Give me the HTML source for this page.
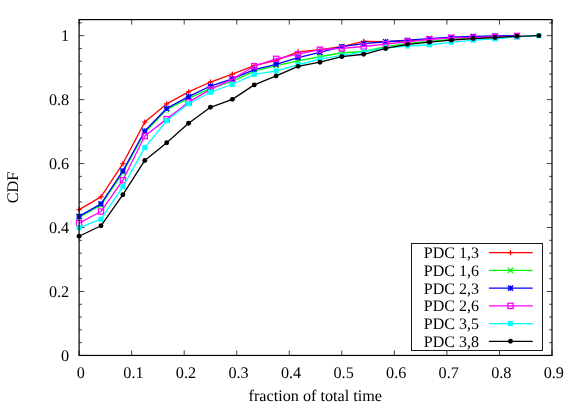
<!DOCTYPE html><html><head><meta charset="utf-8"><style>html,body{margin:0;padding:0;background:#fff}svg{display:block;will-change:transform}text{font-family:"Liberation Serif",serif;font-size:16.2px;fill:#000;text-rendering:geometricPrecision}</style></head><body>
<svg width="581" height="407" viewBox="0 0 581 407">
<rect width="581" height="407" fill="#fff"/>
<text x="80.90" y="377.5" text-anchor="middle">0</text>
<text x="133.44" y="377.5" text-anchor="middle">0.1</text>
<text x="185.99" y="377.5" text-anchor="middle">0.2</text>
<text x="238.53" y="377.5" text-anchor="middle">0.3</text>
<text x="291.08" y="377.5" text-anchor="middle">0.4</text>
<text x="343.62" y="377.5" text-anchor="middle">0.5</text>
<text x="396.17" y="377.5" text-anchor="middle">0.6</text>
<text x="448.71" y="377.5" text-anchor="middle">0.7</text>
<text x="501.26" y="377.5" text-anchor="middle">0.8</text>
<text x="553.80" y="377.5" text-anchor="middle">0.9</text>
<text x="69.2" y="360.95" text-anchor="end">0</text>
<text x="69.2" y="296.99" text-anchor="end">0.2</text>
<text x="69.2" y="233.03" text-anchor="end">0.4</text>
<text x="69.2" y="169.07" text-anchor="end">0.6</text>
<text x="69.2" y="105.11" text-anchor="end">0.8</text>
<text x="69.2" y="41.15" text-anchor="end">1</text>
<text x="315.3" y="401.2" text-anchor="middle">fraction of total time</text>
<text transform="translate(18.2,187.5) rotate(-90)" text-anchor="middle">CDF</text>
<path d="M79.10,355.45v-5M79.10,19.6v5M131.64,355.45v-5M131.64,19.6v5M184.19,355.45v-5M184.19,19.6v5M236.73,355.45v-5M236.73,19.6v5M289.28,355.45v-5M289.28,19.6v5M341.82,355.45v-5M341.82,19.6v5M394.37,355.45v-5M394.37,19.6v5M446.91,355.45v-5M446.91,19.6v5M499.46,355.45v-5M499.46,19.6v5M552.00,355.45v-5M552.00,19.6v5M79.1,355.45h5.2M552.0,355.45h-5.2M79.1,342.66h2.8M552.0,342.66h-2.8M79.1,329.87h2.8M552.0,329.87h-2.8M79.1,317.07h2.8M552.0,317.07h-2.8M79.1,304.28h2.8M552.0,304.28h-2.8M79.1,291.49h5.2M552.0,291.49h-5.2M79.1,278.70h2.8M552.0,278.70h-2.8M79.1,265.91h2.8M552.0,265.91h-2.8M79.1,253.11h2.8M552.0,253.11h-2.8M79.1,240.32h2.8M552.0,240.32h-2.8M79.1,227.53h5.2M552.0,227.53h-5.2M79.1,214.74h2.8M552.0,214.74h-2.8M79.1,201.95h2.8M552.0,201.95h-2.8M79.1,189.15h2.8M552.0,189.15h-2.8M79.1,176.36h2.8M552.0,176.36h-2.8M79.1,163.57h5.2M552.0,163.57h-5.2M79.1,150.78h2.8M552.0,150.78h-2.8M79.1,137.99h2.8M552.0,137.99h-2.8M79.1,125.19h2.8M552.0,125.19h-2.8M79.1,112.40h2.8M552.0,112.40h-2.8M79.1,99.61h5.2M552.0,99.61h-5.2M79.1,86.82h2.8M552.0,86.82h-2.8M79.1,74.03h2.8M552.0,74.03h-2.8M79.1,61.23h2.8M552.0,61.23h-2.8M79.1,48.44h2.8M552.0,48.44h-2.8M79.1,35.65h5.2M552.0,35.65h-5.2M79.1,22.86h2.8M552.0,22.86h-2.8" stroke="#000" stroke-width="0.75" fill="none"/>
<path d="M79.10,209.62L100.99,196.83L122.89,163.57L144.78,122.09L166.67,103.90L188.57,91.81L210.46,82.02L232.35,74.03L254.25,65.71L276.14,60.27L298.04,51.96L319.93,49.72L341.82,46.65L363.72,41.34L385.61,41.73L407.50,40.77L429.40,39.17L451.29,37.89L473.18,36.93L495.08,36.29L516.97,35.65" stroke="#ff0000" stroke-width="1.3" fill="none" stroke-linejoin="round"/>
<path d="M76.50,209.62H81.70M79.10,207.02V212.22" stroke="#ff0000" stroke-width="1.3" fill="none"/>
<path d="M98.39,196.83H103.59M100.99,194.23V199.43" stroke="#ff0000" stroke-width="1.3" fill="none"/>
<path d="M120.29,163.57H125.49M122.89,160.97V166.17" stroke="#ff0000" stroke-width="1.3" fill="none"/>
<path d="M142.18,122.09H147.38M144.78,119.49V124.69" stroke="#ff0000" stroke-width="1.3" fill="none"/>
<path d="M164.07,103.90H169.27M166.67,101.30V106.50" stroke="#ff0000" stroke-width="1.3" fill="none"/>
<path d="M185.97,91.81H191.17M188.57,89.21V94.41" stroke="#ff0000" stroke-width="1.3" fill="none"/>
<path d="M207.86,82.02H213.06M210.46,79.42V84.62" stroke="#ff0000" stroke-width="1.3" fill="none"/>
<path d="M229.75,74.03H234.95M232.35,71.43V76.63" stroke="#ff0000" stroke-width="1.3" fill="none"/>
<path d="M251.65,65.71H256.85M254.25,63.11V68.31" stroke="#ff0000" stroke-width="1.3" fill="none"/>
<path d="M273.54,60.27H278.74M276.14,57.67V62.87" stroke="#ff0000" stroke-width="1.3" fill="none"/>
<path d="M295.44,51.96H300.64M298.04,49.36V54.56" stroke="#ff0000" stroke-width="1.3" fill="none"/>
<path d="M317.33,49.72H322.53M319.93,47.12V52.32" stroke="#ff0000" stroke-width="1.3" fill="none"/>
<path d="M339.22,46.65H344.42M341.82,44.05V49.25" stroke="#ff0000" stroke-width="1.3" fill="none"/>
<path d="M361.12,41.34H366.32M363.72,38.74V43.94" stroke="#ff0000" stroke-width="1.3" fill="none"/>
<path d="M383.01,41.73H388.21M385.61,39.13V44.33" stroke="#ff0000" stroke-width="1.3" fill="none"/>
<path d="M404.90,40.77H410.10M407.50,38.17V43.37" stroke="#ff0000" stroke-width="1.3" fill="none"/>
<path d="M426.80,39.17H432.00M429.40,36.57V41.77" stroke="#ff0000" stroke-width="1.3" fill="none"/>
<path d="M448.69,37.89H453.89M451.29,35.29V40.49" stroke="#ff0000" stroke-width="1.3" fill="none"/>
<path d="M470.58,36.93H475.78M473.18,34.33V39.53" stroke="#ff0000" stroke-width="1.3" fill="none"/>
<path d="M492.48,36.29H497.68M495.08,33.69V38.89" stroke="#ff0000" stroke-width="1.3" fill="none"/>
<path d="M514.37,35.65H519.57M516.97,33.05V38.25" stroke="#ff0000" stroke-width="1.3" fill="none"/>
<path d="M79.10,217.14L100.99,205.14L122.89,172.52L144.78,132.55L166.67,109.52L188.57,98.33L210.46,88.42L232.35,81.38L254.25,71.05L276.14,65.71L298.04,60.91L319.93,56.76L341.82,52.76L363.72,51.48L385.61,46.52L407.50,43.33L429.40,41.09L451.29,39.49L473.18,38.21L495.08,37.25L516.97,36.29" stroke="#00ff00" stroke-width="1.3" fill="none" stroke-linejoin="round"/>
<path d="M76.50,214.54L81.70,219.74M76.50,219.74L81.70,214.54" stroke="#00ff00" stroke-width="1.3" fill="none"/>
<path d="M98.39,202.54L103.59,207.74M98.39,207.74L103.59,202.54" stroke="#00ff00" stroke-width="1.3" fill="none"/>
<path d="M120.29,169.92L125.49,175.12M120.29,175.12L125.49,169.92" stroke="#00ff00" stroke-width="1.3" fill="none"/>
<path d="M142.18,129.95L147.38,135.15M142.18,135.15L147.38,129.95" stroke="#00ff00" stroke-width="1.3" fill="none"/>
<path d="M164.07,106.92L169.27,112.12M164.07,112.12L169.27,106.92" stroke="#00ff00" stroke-width="1.3" fill="none"/>
<path d="M185.97,95.73L191.17,100.93M185.97,100.93L191.17,95.73" stroke="#00ff00" stroke-width="1.3" fill="none"/>
<path d="M207.86,85.82L213.06,91.02M207.86,91.02L213.06,85.82" stroke="#00ff00" stroke-width="1.3" fill="none"/>
<path d="M229.75,78.78L234.95,83.98M229.75,83.98L234.95,78.78" stroke="#00ff00" stroke-width="1.3" fill="none"/>
<path d="M251.65,68.45L256.85,73.65M251.65,73.65L256.85,68.45" stroke="#00ff00" stroke-width="1.3" fill="none"/>
<path d="M273.54,63.11L278.74,68.31M273.54,68.31L278.74,63.11" stroke="#00ff00" stroke-width="1.3" fill="none"/>
<path d="M295.44,58.31L300.64,63.51M295.44,63.51L300.64,58.31" stroke="#00ff00" stroke-width="1.3" fill="none"/>
<path d="M317.33,54.16L322.53,59.36M317.33,59.36L322.53,54.16" stroke="#00ff00" stroke-width="1.3" fill="none"/>
<path d="M339.22,50.16L344.42,55.36M339.22,55.36L344.42,50.16" stroke="#00ff00" stroke-width="1.3" fill="none"/>
<path d="M361.12,48.88L366.32,54.08M361.12,54.08L366.32,48.88" stroke="#00ff00" stroke-width="1.3" fill="none"/>
<path d="M383.01,43.92L388.21,49.12M383.01,49.12L388.21,43.92" stroke="#00ff00" stroke-width="1.3" fill="none"/>
<path d="M404.90,40.73L410.10,45.93M404.90,45.93L410.10,40.73" stroke="#00ff00" stroke-width="1.3" fill="none"/>
<path d="M426.80,38.49L432.00,43.69M426.80,43.69L432.00,38.49" stroke="#00ff00" stroke-width="1.3" fill="none"/>
<path d="M448.69,36.89L453.89,42.09M448.69,42.09L453.89,36.89" stroke="#00ff00" stroke-width="1.3" fill="none"/>
<path d="M470.58,35.61L475.78,40.81M470.58,40.81L475.78,35.61" stroke="#00ff00" stroke-width="1.3" fill="none"/>
<path d="M492.48,34.65L497.68,39.85M492.48,39.85L497.68,34.65" stroke="#00ff00" stroke-width="1.3" fill="none"/>
<path d="M514.37,33.69L519.57,38.89M514.37,38.89L519.57,33.69" stroke="#00ff00" stroke-width="1.3" fill="none"/>
<path d="M79.10,216.43L100.99,203.86L122.89,170.93L144.78,130.95L166.67,108.44L188.57,96.57L210.46,86.02L232.35,78.82L254.25,69.55L276.14,64.27L298.04,57.56L319.93,52.28L341.82,46.65L363.72,43.64L385.61,41.73L407.50,40.26L429.40,38.53L451.29,37.25L473.18,36.29L495.08,35.97L516.97,35.65" stroke="#0000ff" stroke-width="1.3" fill="none" stroke-linejoin="round"/>
<path d="M76.50,213.83L81.70,219.03M76.50,219.03L81.70,213.83M76.50,216.43H81.70M79.10,213.83V219.03" stroke="#0000ff" stroke-width="1.3" fill="none"/>
<path d="M98.39,201.26L103.59,206.46M98.39,206.46L103.59,201.26M98.39,203.86H103.59M100.99,201.26V206.46" stroke="#0000ff" stroke-width="1.3" fill="none"/>
<path d="M120.29,168.33L125.49,173.53M120.29,173.53L125.49,168.33M120.29,170.93H125.49M122.89,168.33V173.53" stroke="#0000ff" stroke-width="1.3" fill="none"/>
<path d="M142.18,128.35L147.38,133.55M142.18,133.55L147.38,128.35M142.18,130.95H147.38M144.78,128.35V133.55" stroke="#0000ff" stroke-width="1.3" fill="none"/>
<path d="M164.07,105.84L169.27,111.04M164.07,111.04L169.27,105.84M164.07,108.44H169.27M166.67,105.84V111.04" stroke="#0000ff" stroke-width="1.3" fill="none"/>
<path d="M185.97,93.97L191.17,99.17M185.97,99.17L191.17,93.97M185.97,96.57H191.17M188.57,93.97V99.17" stroke="#0000ff" stroke-width="1.3" fill="none"/>
<path d="M207.86,83.42L213.06,88.62M207.86,88.62L213.06,83.42M207.86,86.02H213.06M210.46,83.42V88.62" stroke="#0000ff" stroke-width="1.3" fill="none"/>
<path d="M229.75,76.22L234.95,81.42M229.75,81.42L234.95,76.22M229.75,78.82H234.95M232.35,76.22V81.42" stroke="#0000ff" stroke-width="1.3" fill="none"/>
<path d="M251.65,66.95L256.85,72.15M251.65,72.15L256.85,66.95M251.65,69.55H256.85M254.25,66.95V72.15" stroke="#0000ff" stroke-width="1.3" fill="none"/>
<path d="M273.54,61.67L278.74,66.87M273.54,66.87L278.74,61.67M273.54,64.27H278.74M276.14,61.67V66.87" stroke="#0000ff" stroke-width="1.3" fill="none"/>
<path d="M295.44,54.96L300.64,60.16M295.44,60.16L300.64,54.96M295.44,57.56H300.64M298.04,54.96V60.16" stroke="#0000ff" stroke-width="1.3" fill="none"/>
<path d="M317.33,49.68L322.53,54.88M317.33,54.88L322.53,49.68M317.33,52.28H322.53M319.93,49.68V54.88" stroke="#0000ff" stroke-width="1.3" fill="none"/>
<path d="M339.22,44.05L344.42,49.25M339.22,49.25L344.42,44.05M339.22,46.65H344.42M341.82,44.05V49.25" stroke="#0000ff" stroke-width="1.3" fill="none"/>
<path d="M361.12,41.04L366.32,46.24M361.12,46.24L366.32,41.04M361.12,43.64H366.32M363.72,41.04V46.24" stroke="#0000ff" stroke-width="1.3" fill="none"/>
<path d="M383.01,39.13L388.21,44.33M383.01,44.33L388.21,39.13M383.01,41.73H388.21M385.61,39.13V44.33" stroke="#0000ff" stroke-width="1.3" fill="none"/>
<path d="M404.90,37.66L410.10,42.86M404.90,42.86L410.10,37.66M404.90,40.26H410.10M407.50,37.66V42.86" stroke="#0000ff" stroke-width="1.3" fill="none"/>
<path d="M426.80,35.93L432.00,41.13M426.80,41.13L432.00,35.93M426.80,38.53H432.00M429.40,35.93V41.13" stroke="#0000ff" stroke-width="1.3" fill="none"/>
<path d="M448.69,34.65L453.89,39.85M448.69,39.85L453.89,34.65M448.69,37.25H453.89M451.29,34.65V39.85" stroke="#0000ff" stroke-width="1.3" fill="none"/>
<path d="M470.58,33.69L475.78,38.89M470.58,38.89L475.78,33.69M470.58,36.29H475.78M473.18,33.69V38.89" stroke="#0000ff" stroke-width="1.3" fill="none"/>
<path d="M492.48,33.37L497.68,38.57M492.48,38.57L497.68,33.37M492.48,35.97H497.68M495.08,33.37V38.57" stroke="#0000ff" stroke-width="1.3" fill="none"/>
<path d="M514.37,33.05L519.57,38.25M514.37,38.25L519.57,33.05M514.37,35.65H519.57M516.97,33.05V38.25" stroke="#0000ff" stroke-width="1.3" fill="none"/>
<path d="M79.10,223.05L100.99,211.54L122.89,180.20L144.78,136.07L166.67,119.12L188.57,102.17L210.46,89.38L232.35,79.14L254.25,66.19L276.14,58.84L298.04,54.20L319.93,49.72L341.82,48.44L363.72,46.52L385.61,44.16L407.50,41.73L429.40,39.39L451.29,37.89L473.18,37.66L495.08,36.93L516.97,36.03" stroke="#ff00ff" stroke-width="1.3" fill="none" stroke-linejoin="round"/>
<rect x="76.50" y="220.45" width="5.20" height="5.20" stroke="#ff00ff" stroke-width="1.3" fill="none"/>
<rect x="98.39" y="208.94" width="5.20" height="5.20" stroke="#ff00ff" stroke-width="1.3" fill="none"/>
<rect x="120.29" y="177.60" width="5.20" height="5.20" stroke="#ff00ff" stroke-width="1.3" fill="none"/>
<rect x="142.18" y="133.47" width="5.20" height="5.20" stroke="#ff00ff" stroke-width="1.3" fill="none"/>
<rect x="164.07" y="116.52" width="5.20" height="5.20" stroke="#ff00ff" stroke-width="1.3" fill="none"/>
<rect x="185.97" y="99.57" width="5.20" height="5.20" stroke="#ff00ff" stroke-width="1.3" fill="none"/>
<rect x="207.86" y="86.78" width="5.20" height="5.20" stroke="#ff00ff" stroke-width="1.3" fill="none"/>
<rect x="229.75" y="76.54" width="5.20" height="5.20" stroke="#ff00ff" stroke-width="1.3" fill="none"/>
<rect x="251.65" y="63.59" width="5.20" height="5.20" stroke="#ff00ff" stroke-width="1.3" fill="none"/>
<rect x="273.54" y="56.24" width="5.20" height="5.20" stroke="#ff00ff" stroke-width="1.3" fill="none"/>
<rect x="295.44" y="51.60" width="5.20" height="5.20" stroke="#ff00ff" stroke-width="1.3" fill="none"/>
<rect x="317.33" y="47.12" width="5.20" height="5.20" stroke="#ff00ff" stroke-width="1.3" fill="none"/>
<rect x="339.22" y="45.84" width="5.20" height="5.20" stroke="#ff00ff" stroke-width="1.3" fill="none"/>
<rect x="361.12" y="43.92" width="5.20" height="5.20" stroke="#ff00ff" stroke-width="1.3" fill="none"/>
<rect x="383.01" y="41.56" width="5.20" height="5.20" stroke="#ff00ff" stroke-width="1.3" fill="none"/>
<rect x="404.90" y="39.13" width="5.20" height="5.20" stroke="#ff00ff" stroke-width="1.3" fill="none"/>
<rect x="426.80" y="36.79" width="5.20" height="5.20" stroke="#ff00ff" stroke-width="1.3" fill="none"/>
<rect x="448.69" y="35.29" width="5.20" height="5.20" stroke="#ff00ff" stroke-width="1.3" fill="none"/>
<rect x="470.58" y="35.06" width="5.20" height="5.20" stroke="#ff00ff" stroke-width="1.3" fill="none"/>
<rect x="492.48" y="34.33" width="5.20" height="5.20" stroke="#ff00ff" stroke-width="1.3" fill="none"/>
<rect x="514.37" y="33.43" width="5.20" height="5.20" stroke="#ff00ff" stroke-width="1.3" fill="none"/>
<path d="M79.10,227.53L100.99,219.22L122.89,186.69L144.78,147.68L166.67,120.72L188.57,103.77L210.46,92.25L232.35,84.26L254.25,74.35L276.14,70.83L298.04,64.75L319.93,59.12L341.82,55.48L363.72,51.96L385.61,47.80L407.50,46.01L429.40,44.76L451.29,42.37L473.18,40.13L495.08,38.85L516.97,36.93L538.86,35.65" stroke="#00ffff" stroke-width="1.3" fill="none" stroke-linejoin="round"/>
<rect x="76.55" y="224.98" width="5.1" height="5.1" fill="#00ffff"/>
<rect x="98.44" y="216.67" width="5.1" height="5.1" fill="#00ffff"/>
<rect x="120.34" y="184.14" width="5.1" height="5.1" fill="#00ffff"/>
<rect x="142.23" y="145.13" width="5.1" height="5.1" fill="#00ffff"/>
<rect x="164.12" y="118.17" width="5.1" height="5.1" fill="#00ffff"/>
<rect x="186.02" y="101.22" width="5.1" height="5.1" fill="#00ffff"/>
<rect x="207.91" y="89.70" width="5.1" height="5.1" fill="#00ffff"/>
<rect x="229.80" y="81.71" width="5.1" height="5.1" fill="#00ffff"/>
<rect x="251.70" y="71.80" width="5.1" height="5.1" fill="#00ffff"/>
<rect x="273.59" y="68.28" width="5.1" height="5.1" fill="#00ffff"/>
<rect x="295.49" y="62.20" width="5.1" height="5.1" fill="#00ffff"/>
<rect x="317.38" y="56.57" width="5.1" height="5.1" fill="#00ffff"/>
<rect x="339.27" y="52.93" width="5.1" height="5.1" fill="#00ffff"/>
<rect x="361.17" y="49.41" width="5.1" height="5.1" fill="#00ffff"/>
<rect x="383.06" y="45.25" width="5.1" height="5.1" fill="#00ffff"/>
<rect x="404.95" y="43.46" width="5.1" height="5.1" fill="#00ffff"/>
<rect x="426.85" y="42.21" width="5.1" height="5.1" fill="#00ffff"/>
<rect x="448.74" y="39.82" width="5.1" height="5.1" fill="#00ffff"/>
<rect x="470.63" y="37.58" width="5.1" height="5.1" fill="#00ffff"/>
<rect x="492.53" y="36.30" width="5.1" height="5.1" fill="#00ffff"/>
<rect x="514.42" y="34.38" width="5.1" height="5.1" fill="#00ffff"/>
<rect x="536.31" y="33.10" width="5.1" height="5.1" fill="#00ffff"/>
<path d="M79.10,236.26L100.99,225.77L122.89,194.72L144.78,160.47L166.67,142.78L188.57,123.28L210.46,107.29L232.35,99.35L254.25,84.90L276.14,75.88L298.04,66.35L319.93,62.19L341.82,56.63L363.72,54.26L385.61,48.44L407.50,44.35L429.40,42.14L451.29,40.13L473.18,38.53L495.08,37.57L516.97,36.29L538.86,35.65" stroke="#000000" stroke-width="1.3" fill="none" stroke-linejoin="round"/>
<circle cx="79.10" cy="236.26" r="2.45" fill="#000000"/>
<circle cx="100.99" cy="225.77" r="2.45" fill="#000000"/>
<circle cx="122.89" cy="194.72" r="2.45" fill="#000000"/>
<circle cx="144.78" cy="160.47" r="2.45" fill="#000000"/>
<circle cx="166.67" cy="142.78" r="2.45" fill="#000000"/>
<circle cx="188.57" cy="123.28" r="2.45" fill="#000000"/>
<circle cx="210.46" cy="107.29" r="2.45" fill="#000000"/>
<circle cx="232.35" cy="99.35" r="2.45" fill="#000000"/>
<circle cx="254.25" cy="84.90" r="2.45" fill="#000000"/>
<circle cx="276.14" cy="75.88" r="2.45" fill="#000000"/>
<circle cx="298.04" cy="66.35" r="2.45" fill="#000000"/>
<circle cx="319.93" cy="62.19" r="2.45" fill="#000000"/>
<circle cx="341.82" cy="56.63" r="2.45" fill="#000000"/>
<circle cx="363.72" cy="54.26" r="2.45" fill="#000000"/>
<circle cx="385.61" cy="48.44" r="2.45" fill="#000000"/>
<circle cx="407.50" cy="44.35" r="2.45" fill="#000000"/>
<circle cx="429.40" cy="42.14" r="2.45" fill="#000000"/>
<circle cx="451.29" cy="40.13" r="2.45" fill="#000000"/>
<circle cx="473.18" cy="38.53" r="2.45" fill="#000000"/>
<circle cx="495.08" cy="37.57" r="2.45" fill="#000000"/>
<circle cx="516.97" cy="36.29" r="2.45" fill="#000000"/>
<circle cx="538.86" cy="35.65" r="2.45" fill="#000000"/>
<rect x="411.5" y="243.5" width="131.00" height="107.00" fill="#fff" stroke="#000" stroke-width="0.9"/>
<text x="478.9" y="258.10" text-anchor="end" style="font-size:16px">PDC 1,3</text>
<path d="M488.9,252.70H532.7" stroke="#ff0000" stroke-width="1.3" fill="none"/>
<path d="M507.90,252.70H513.10M510.50,250.10V255.30" stroke="#ff0000" stroke-width="1.3" fill="none"/>
<text x="478.9" y="275.82" text-anchor="end" style="font-size:16px">PDC 1,6</text>
<path d="M488.9,270.42H532.7" stroke="#00ff00" stroke-width="1.3" fill="none"/>
<path d="M507.90,267.82L513.10,273.02M507.90,273.02L513.10,267.82" stroke="#00ff00" stroke-width="1.3" fill="none"/>
<text x="478.9" y="293.54" text-anchor="end" style="font-size:16px">PDC 2,3</text>
<path d="M488.9,288.14H532.7" stroke="#0000ff" stroke-width="1.3" fill="none"/>
<path d="M507.90,285.54L513.10,290.74M507.90,290.74L513.10,285.54M507.90,288.14H513.10M510.50,285.54V290.74" stroke="#0000ff" stroke-width="1.3" fill="none"/>
<text x="478.9" y="311.26" text-anchor="end" style="font-size:16px">PDC 2,6</text>
<path d="M488.9,305.86H532.7" stroke="#ff00ff" stroke-width="1.3" fill="none"/>
<rect x="507.90" y="303.26" width="5.20" height="5.20" stroke="#ff00ff" stroke-width="1.3" fill="none"/>
<text x="478.9" y="328.98" text-anchor="end" style="font-size:16px">PDC 3,5</text>
<path d="M488.9,323.58H532.7" stroke="#00ffff" stroke-width="1.3" fill="none"/>
<rect x="507.95" y="321.03" width="5.1" height="5.1" fill="#00ffff"/>
<text x="478.9" y="346.70" text-anchor="end" style="font-size:16px">PDC 3,8</text>
<path d="M488.9,341.30H532.7" stroke="#000000" stroke-width="1.3" fill="none"/>
<circle cx="510.50" cy="341.30" r="2.45" fill="#000000"/>
<rect x="79.1" y="19.6" width="472.90" height="335.85" fill="none" stroke="#000" stroke-width="1.2"/>
</svg></body></html>
